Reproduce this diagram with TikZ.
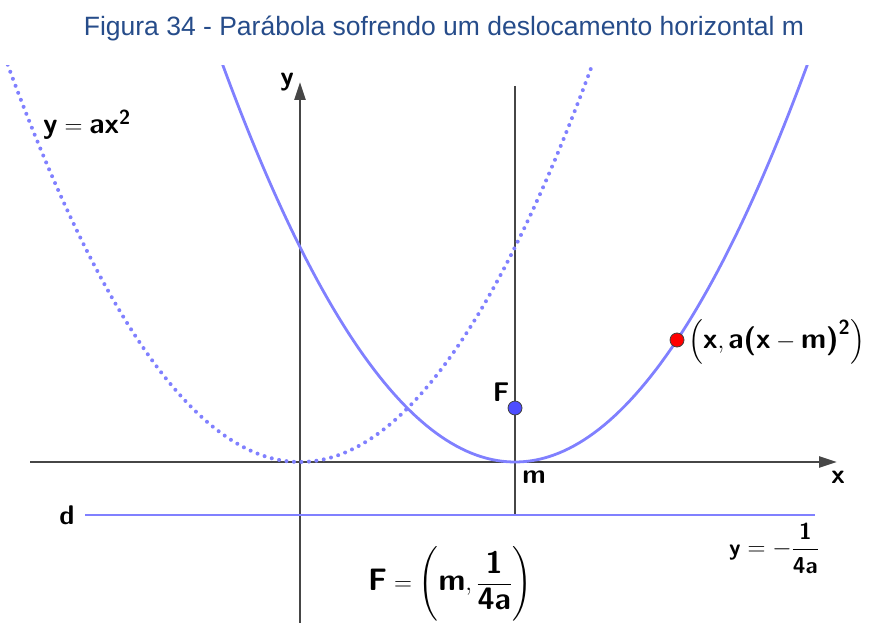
\documentclass[tikz,border=0pt]{standalone}
\usepackage{amsmath}
\usepackage{fontspec}
\newfontfamily\capfont{Liberation Sans}
\usetikzlibrary{arrows.meta}
\definecolor{geoblue}{RGB}{128,128,255}
\definecolor{axisgray}{RGB}{70,70,70}
\definecolor{capblue}{RGB}{38,76,138}
\newcommand{\gb}[1]{\text{\sffamily\bfseries #1}}

\begin{document}
\begin{tikzpicture}[x=1pt, y=-1pt,
    >={Triangle[width=11pt,length=18pt]},
    every node/.style={font=\fontsize{23}{27}\selectfont, inner sep=0pt},
    big/.style  ={font=\fontsize{29}{34}\selectfont},
    tag/.style  ={font=\fontsize{27}{32}\selectfont},
    axis/.style ={->, axisgray, line width=2.4pt},
    line/.style ={axisgray, line width=2.4pt},
    curve/.style={geoblue, line width=2.8pt},
    ghost/.style={geoblue, line width=4pt, line cap=round,
                  dash pattern=on 0pt off 7.5pt},
    pt/.style   ={circle, draw=black!75, line width=0.8pt, minimum size=14pt},
]
\useasboundingbox (0,0) rectangle (869,623);
% title
\node[font=\capfont\fontsize{26.5}{30}\selectfont, text=capblue, anchor=base] (title)
   at (444,36) {Figura 34 - Parábola sofrendo um deslocamento horizontal m};
% axes and lines
\coordinate (xl) at (30,462);   \coordinate (xr) at (837,462);
\coordinate (yb) at (300,630);  \coordinate (yt) at (300,82);
\coordinate (vt) at (515,86);   \coordinate (vb) at (515,515);
\coordinate (dl) at (85,515);   \coordinate (dr) at (815,515);
\draw[axis] (xl) -- (xr);
\draw[axis] (yb) -- (yt);
\draw[line] (vt) -- (vb);
\draw[curve] (dl) -- (dr);
% parabolas, y = 462 - 0.4649 ((x-x0)/10)^2
\begin{scope}
  \clip (0,66) rectangle (869,623);
  \draw[ghost] plot[domain=0:600, samples=120] (\x, {462-0.4649*((\x-300)/10)^2});
  \draw[curve] plot[domain=210:820, samples=120] (\x, {462-0.4649*((\x-515)/10)^2});
\end{scope}
% points
\node[pt, fill={rgb,255:red,77;green,77;blue,255}] (F) at (515,408) {};
\node[pt, fill=red] (P) at (677,340) {};
% labels
\node[tag] (ylab) at (287,82) {\gb{y}};
\node[tag] (xlab) at (838,477) {\gb{x}};
\node[tag] (mlab) at (534,477) {\gb{m}};
\node[tag] (Flab) at (501,392) {\gb{F}};
\node[tag] (dlab) at (67,515) {\gb{d}};
\node[big, anchor=west] (parab) at (43,125) {$\gb{y}=\gb{ax}^{\gb{2}}$};
\node[big, anchor=west] (Plab) at (688,342)
   {$\Bigl(\gb{x},\gb{a(x}-\gb{m)}^{\gb{2}}\Bigr)$};
\node[anchor=west, font=\fontsize{31}{36}\selectfont] (Fform) at (368,584)
   {$\gb{F}=\left(\gb{m},\dfrac{\gb{1}}{\gb{4a}}\right)$};
\node[anchor=west] (dform) at (729,548)
   {$\gb{y}=-\dfrac{\gb{1}}{\gb{4a}}$};
\end{tikzpicture}
\end{document}
